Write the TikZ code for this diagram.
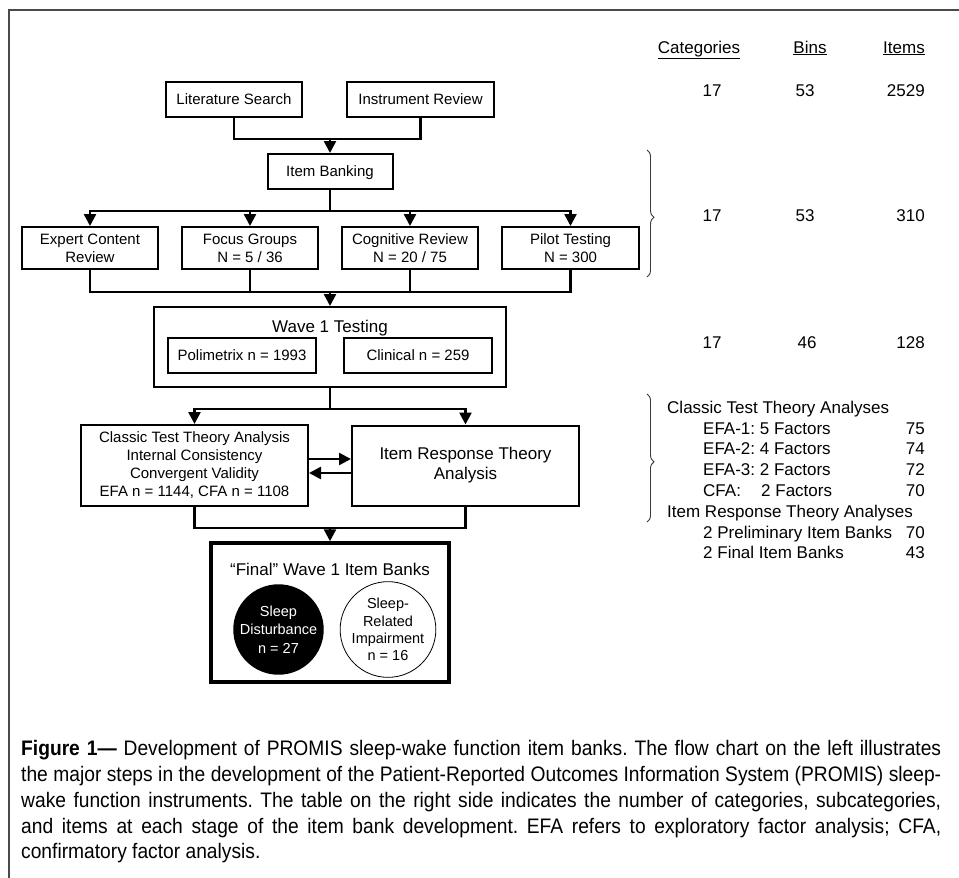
\documentclass[tikz,border=0pt]{standalone}
\usepackage{fontspec}
\setmainfont{Liberation Sans}
\newfontfamily\capfont[FakeStretch=0.915]{Liberation Sans}
\usetikzlibrary{arrows.meta,decorations.pathreplacing}
\definecolor{framegray}{HTML}{4A4A4A}
\definecolor{bracegray}{HTML}{3A3A3A}
\newcommand\bxf{\fontsize{15}{18}\selectfont}
\newcommand\ttlf{\fontsize{17}{20}\selectfont}
\newcommand\tabf{\fontsize{17}{21}\selectfont}
\newcommand\cirfa{\fontsize{14.5}{18.5}\selectfont}
\newcommand\cirfb{\fontsize{14.5}{17.3}\selectfont}
\newcommand\capf{\capfont\fontsize{21}{26}\selectfont}
\frenchspacing
\begin{document}
\begin{tikzpicture}[x=1pt,y=-1pt,
  box/.style={draw=black, line width=2pt, inner sep=0pt, font=\bxf, text=black},
  sbox/.style={box, text height=10.8pt, text depth=0pt, minimum height=35pt},
  mbox/.style={box, align=center},
  ttl/.style={font=\ttlf, inner sep=0pt, text height=12.2pt, text depth=0pt},
  conn/.style={line width=2.5pt, draw=black},
  arr/.style={conn, -{Triangle[width=12pt,length=12pt]}},
  tab/.style={font=\tabf, inner sep=0pt, text height=12.2pt, text depth=0pt},
  brc/.style={draw=bracegray, line width=0.9pt, decorate, decoration={brace, amplitude=7pt, aspect=0.53}},
  captxt/.style={font=\capf, inner sep=0pt, text height=15pt, text depth=0pt, anchor=west}]
\fill[white] (0,0) rectangle (959,878);
\useasboundingbox (0,0) rectangle (959,878);
\draw[draw=framegray, line width=1.5pt] (9,878) -- (9,10) -- (959,10);

% flow chart
\node[sbox, minimum width=136pt] (lit) at (234,99.5) {Literature Search};
\node[sbox, minimum width=147pt] (inst) at (420.5,99.5) {Instrument Review};
\node[sbox, minimum width=125pt] (bank) at (330,171.5) {Item Banking};
\node[mbox, minimum width=136pt, minimum height=42pt] (expert) at (90,248) {Expert Content\\Review};
\node[mbox, minimum width=136pt, minimum height=42pt] (focus) at (250,248) {Focus Groups\\N = 5 / 36};
\node[mbox, minimum width=136pt, minimum height=42pt] (cog) at (410,248) {Cognitive Review\\N = 20 / 75};
\node[mbox, minimum width=137pt, minimum height=42pt] (pilot) at (570.5,248) {Pilot Testing\\N = 300};

\node[box, minimum width=352pt, minimum height=80pt] (wave) at (330,347) {};
\node[ttl] (wavet) at (330,326) {Wave 1 Testing};
\node[sbox, minimum width=148pt] (poli) at (242,355.5) {Polimetrix n = 1993};
\node[sbox, minimum width=148pt] (clin) at (418,355.5) {Clinical n = 259};

\node[mbox, minimum width=227pt, minimum height=81pt] (ctt) at (194.5,465.5) {Classic Test Theory Analysis\\Internal Consistency\\Convergent Validity\\EFA n = 1144, CFA n = 1108};
\node[mbox, font=\ttlf, minimum width=227pt, minimum height=80pt] (irt) at (465.5,465.5) {Item Response Theory\\Analysis};

\node[box, line width=3.5pt, minimum width=238pt, minimum height=139pt] (final) at (330,612.5) {};
\node[ttl] (finalt) at (330,569) {“Final” Wave 1 Item Banks};
\node[circle, fill=black, text=white, minimum size=87pt, inner sep=0pt, align=center, font=\cirfa] (sd) at (278.5,629.5) {Sleep\\Disturbance\\n = 27};
\node[circle, draw=black, line width=0.8pt, minimum size=88pt, inner sep=0pt, align=center, font=\cirfb] (sri) at (388,629.5) {Sleep-\\Related\\Impairment\\n = 16};

% connectors
\coordinate (j1) at (330,139);
\draw[conn] (lit.south) |- (j1) -| (inst.south);
\draw[arr] (j1) -- (bank.north);
\coordinate (j2) at (330,211);
\draw[conn] (bank.south) -- (j2);
\draw[arr] (j2) -| (expert.north);
\draw[arr] (j2) -| (focus.north);
\draw[arr] (j2) -| (cog.north);
\draw[arr] (j2) -| (pilot.north);
\coordinate (j3) at (330,292);
\draw[conn] (expert.south) |- (j3) -| (pilot.south);
\draw[conn] (focus.south) -- (focus.south |- j3);
\draw[conn] (cog.south) -- (cog.south |- j3);
\draw[arr] (j3) -- (wave.north);
\coordinate (j4) at (330,409);
\draw[conn] (wave.south) -- (j4);
\draw[arr] (j4) -| (ctt.north);
\draw[arr] (j4) -| (irt.north);
\draw[arr] ([yshift=6.5pt]ctt.east) -- ([yshift=6.5pt]irt.west);
\draw[arr] ([yshift=-7.5pt]irt.west) -- ([yshift=-7.5pt]ctt.east);
\coordinate (j5) at (330,528);
\draw[conn] (ctt.south) |- (j5) -| (irt.south);
\draw[arr] (j5) -- (final.north);

% right table
\node[tab] (hcat) at (699,47) {\underline{Categories}};
\node[tab] (hbin) at (810,47) {\underline{Bins}};
\node[tab] (hitm) at (904,47) {\underline{Items}};
\node[tab] (r1c) at (712,90) {17};
\node[tab] (r1b) at (805,90) {53};
\node[tab, anchor=east] (r1i) at (925,90) {2529};
\node[tab] (r2c) at (712,215) {17};
\node[tab] (r2b) at (805,215) {53};
\node[tab, anchor=east] (r2i) at (925,215) {310};
\node[tab] (r3c) at (712,342) {17};
\node[tab] (r3b) at (807,342) {46};
\node[tab, anchor=east] (r3i) at (925,342) {128};

\draw[brc] (647,150) -- (647,277);
\draw[brc] (647,394) -- (647,522);

\node[tab, anchor=west] (ctta) at (667,407) {Classic Test Theory Analyses};
\node[tab, anchor=west] (efa1) at (703,428) {EFA-1: 5 Factors};
\node[tab, anchor=east] (efa1v) at (925,428) {75};
\node[tab, anchor=west] (efa2) at (703,448.5) {EFA-2: 4 Factors};
\node[tab, anchor=east] (efa2v) at (925,448.5) {74};
\node[tab, anchor=west] (efa3) at (703,469) {EFA-3: 2 Factors};
\node[tab, anchor=east] (efa3v) at (925,469) {72};
\node[tab, anchor=west] (cfa) at (703,490) {CFA:};
\node[tab, anchor=west] (cfaf) at (761,490) {2 Factors};
\node[tab, anchor=east] (cfav) at (925,490) {70};
\node[tab, anchor=west] (irta) at (667,511) {Item Response Theory Analyses};
\node[tab, anchor=west] (prel) at (703,532) {2 Preliminary Item Banks};
\node[tab, anchor=east] (prelv) at (925,532) {70};
\node[tab, anchor=west] (fin) at (703,552) {2 Final Item Banks};
\node[tab, anchor=east] (finv) at (925,552) {43};

% caption
\node[captxt] (c1) at (21,748) {\makebox[920pt][s]{\textbf{Figure 1—} Development of PROMIS sleep-wake function item banks. The flow chart on the left illustrates}};
\node[captxt] (c2) at (21,774) {\makebox[920pt][s]{the major steps in the development of the Patient-Reported Outcomes Information System (PROMIS) sleep-}};
\node[captxt] (c3) at (21,800) {\makebox[920pt][s]{wake function instruments. The table on the right side indicates the number of categories, subcategories,}};
\node[captxt] (c4) at (21,826) {\makebox[920pt][s]{and items at each stage of the item bank development. EFA refers to exploratory factor analysis; CFA,}};
\node[captxt] (c5) at (21,851) {confirmatory factor analysis.};
\end{tikzpicture}
\end{document}
